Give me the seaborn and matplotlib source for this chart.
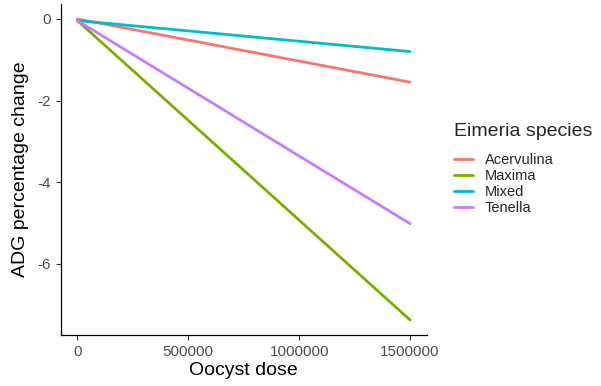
import matplotlib
matplotlib.use("Agg")
import matplotlib.pyplot as plt
import seaborn as sns
import pandas as pd

species = ["Acervulina", "Maxima", "Mixed", "Tenella"]
dose = [0, 1500000]
start_vals = [0.0, -0.04, -0.04, -0.04]
end_vals = [-1.55, -7.38, -0.80, -5.02]
colors = ["#F8766D", "#7CAE00", "#00BFC4", "#C77CFF"]
xticks = [0, 500000, 1000000, 1500000]
xtick_labels = ["0", "500000", "1000000", "1500000"]
yticks = [0, -2, -4, -6]

rows = []
for s, a, b in zip(species, start_vals, end_vals):
    rows.append({"dose": dose[0], "adg": a, "species": s})
    rows.append({"dose": dose[1], "adg": b, "species": s})
df = pd.DataFrame(rows)

sns.set_style("white")
plt.rcParams["font.family"] = ["Liberation Sans", "DejaVu Sans"]

fig = plt.figure(figsize=(6.01, 3.86), dpi=100)
ax = fig.add_axes([0.101, 0.132, 0.609, 0.858])
sns.lineplot(data=df, x="dose", y="adg", hue="species", hue_order=species,
             palette=colors, linewidth=2.0, ax=ax)

ax.set_xlim(-75000, 1575000)
ax.set_ylim(-7.75, 0.37)
ax.set_xticks(xticks)
ax.set_xticklabels(xtick_labels)
ax.set_yticks(yticks)
ax.set_yticklabels([str(v) for v in yticks])
ax.tick_params(axis="both", colors="#333333", labelcolor="#4D4D4D",
               labelsize=11, length=3.5, width=0.8, direction="out",
               bottom=True, left=True)
for side in ["top", "right"]:
    ax.spines[side].set_visible(False)
for side in ["left", "bottom"]:
    ax.spines[side].set_color("black")
    ax.spines[side].set_linewidth(0.9)
ax.set_xlabel("Oocyst dose", fontsize=14, color="black", labelpad=2)
ax.set_ylabel("ADG percentage change", fontsize=14, color="black", labelpad=6)

leg = ax.legend(title="Eimeria species", loc="center left",
                bbox_to_anchor=(1.04, 0.50), frameon=False, fontsize=10.5,
                title_fontsize=14, handlelength=1.3, handletextpad=0.8,
                labelspacing=0.15)
leg._legend_box.align = "left"
leg._legend_box.sep = 9

fig.savefig("out.png", dpi=100)
